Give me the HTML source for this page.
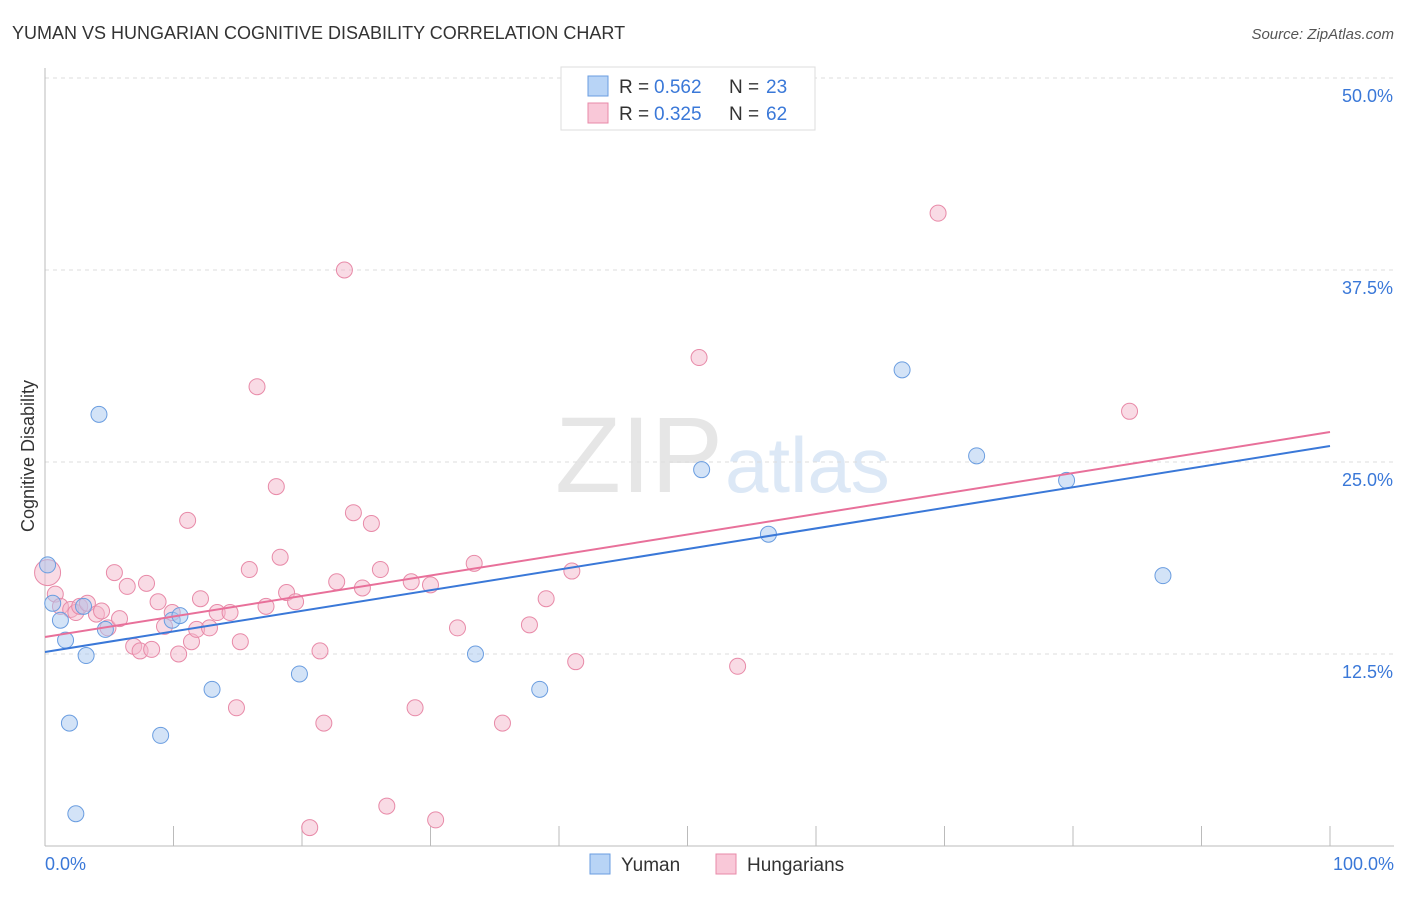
<!DOCTYPE html>
<html><head><meta charset="utf-8"><style>
body{margin:0;background:#fff;font-family:"Liberation Sans",sans-serif}
svg text{font-family:"Liberation Sans",sans-serif}
</style></head><body>
<svg id="c" width="1406" height="892">
<text x="12" y="39" font-size="18" fill="#333">YUMAN VS HUNGARIAN COGNITIVE DISABILITY CORRELATION CHART</text>
<text x="1394" y="39" font-size="15" fill="#555" text-anchor="end" font-style="italic">Source: ZipAtlas.com</text>
<text x="555" y="492" font-size="108" fill="#e6e6e6" font-family="Liberation Serif">ZIP<tspan fill="#dce8f6" font-family="Liberation Sans" font-size="78" dx="2">atlas</tspan></text>
<g id="grid"></g>
<g id="marks"></g>
<text transform="translate(34,456) rotate(-90)" font-size="18" fill="#333" text-anchor="middle">Cognitive Disability</text>
<text x="45" y="870" font-size="18" fill="#3a78d8">0.0%</text>
<text x="1394" y="870" font-size="18" fill="#3a78d8" text-anchor="end">100.0%</text>
<g>
<rect x="561" y="67" width="254" height="63" fill="#fff" stroke="#ddd"/>
<rect x="588" y="76" width="20" height="20" fill="#b8d4f6" stroke="#6a9de0"/>
<rect x="588" y="103" width="20" height="20" fill="#f9c8d8" stroke="#e88aa8"/>
<text x="619" y="93" font-size="19" fill="#333">R =</text>
<text x="654" y="93" font-size="19" fill="#3a78d8">0.562</text>
<text x="729" y="93" font-size="19" fill="#333">N =</text>
<text x="766" y="93" font-size="19" fill="#3a78d8">23</text>
<text x="619" y="120" font-size="19" fill="#333">R =</text>
<text x="654" y="120" font-size="19" fill="#3a78d8">0.325</text>
<text x="729" y="120" font-size="19" fill="#333">N =</text>
<text x="766" y="120" font-size="19" fill="#3a78d8">62</text>
</g>
<g>
<rect x="590" y="854" width="20" height="20" fill="#b8d4f6" stroke="#6a9de0"/>
<text x="621" y="871" font-size="19" fill="#333">Yuman</text>
<rect x="716" y="854" width="20" height="20" fill="#f9c8d8" stroke="#e88aa8"/>
<text x="747" y="871" font-size="19" fill="#333">Hungarians</text>
</g>
</svg>
<script>
const yTicks=[12.5,25,37.5,50];
const yTickLabels=["12.5%","25.0%","37.5%","50.0%"];
const yumanX=[0.2,0.6,1.2,1.6,1.9,2.4,3.2,3.0,4.2,4.7,9.0,9.9,10.5,13.0,19.8,33.5,38.5,51.1,56.3,66.7,72.5,79.5,87.0];
const yumanY=[18.3,15.8,14.7,13.4,8.0,2.1,12.4,15.6,28.1,14.1,7.2,14.7,15.0,10.2,11.2,12.5,10.2,24.5,20.3,31.0,25.4,23.8,17.6];
const hungX=[0.2,0.8,1.2,2.0,2.4,2.7,3.3,4.0,4.4,4.9,5.4,5.8,6.4,6.9,7.4,7.9,8.3,8.8,9.3,9.9,10.4,11.1,11.4,11.8,12.1,12.8,13.4,14.4,14.9,15.2,15.9,16.5,17.2,18.0,18.3,18.8,19.5,20.6,21.4,21.7,22.7,23.3,24.0,24.7,25.4,26.1,26.6,28.5,28.8,30.0,30.4,32.1,33.4,35.6,37.7,39.0,41.0,41.3,50.9,53.9,69.5,84.4];
const hungY=[17.8,16.4,15.6,15.4,15.2,15.6,15.8,15.1,15.3,14.2,17.8,14.8,16.9,13.0,12.7,17.1,12.8,15.9,14.3,15.2,12.5,21.2,13.3,14.1,16.1,14.2,15.2,15.2,9.0,13.3,18.0,29.9,15.6,23.4,18.8,16.5,15.9,1.2,12.7,8.0,17.2,37.5,21.7,16.8,21.0,18.0,2.6,17.2,9.0,17.0,1.7,14.2,18.4,8.0,14.4,16.1,17.9,12.0,31.8,11.7,41.2,28.3];
const regYuman=[12.63,26.04];
const regHung=[13.61,26.95];
const X=v=>45+v*12.85, Y=v=>846-v*15.36;
const NS="http://www.w3.org/2000/svg";
const grid=document.getElementById('grid'), marks=document.getElementById('marks');
function mk(tag,attrs,parent){const e=document.createElementNS(NS,tag);for(const k in attrs)e.setAttribute(k,attrs[k]);parent.appendChild(e);return e;}
yTicks.forEach((t,i)=>{
 const l=mk('line',{x1:45,x2:1394,y1:Y(t),y2:Y(t),stroke:'#ddd','stroke-dasharray':'4,4'},grid);
 
 
 const tx=mk('text',{x:1393,y:Y(t)+24,'font-size':18,fill:'#3a78d8','text-anchor':'end'},grid);
 tx.textContent=yTickLabels[i];
 
 
});
const ax=mk('line',{x1:45,x2:1394,y1:846,y2:846,stroke:'#bbb'},grid);


const ay=mk('line',{x1:45,x2:45,y1:68,y2:846,stroke:'#bbb'},grid);


for(let i=0;i<=10;i++){const t=mk('line',{x1:X(i*10),x2:X(i*10),y1:826,y2:846,stroke:'#bbb'},grid);
 
 }
function pts(xs,ys,fill,stroke,name){xs.forEach((x,i)=>{
 const c=mk('circle',{cx:X(x),cy:Y(ys[i]),r:(name==='hungarian-point'&&i===0)?13:8,fill:fill,'fill-opacity':0.5,stroke:stroke,'stroke-width':1},marks);
 
 });}
pts(hungX,hungY,'#f4b8cb','#e88aa8','hungarian-point');
pts(yumanX,yumanY,'#a8c8f0','#6a9de0','yuman-point');
const l1=mk('line',{x1:X(0),y1:Y(regYuman[0]),x2:X(100),y2:Y(regYuman[1]),stroke:'#3a78d8','stroke-width':2},marks);


const l2=mk('line',{x1:X(0),y1:Y(regHung[0]),x2:X(100),y2:Y(regHung[1]),stroke:'#e8709a','stroke-width':2},marks);


</script>
</body></html>
